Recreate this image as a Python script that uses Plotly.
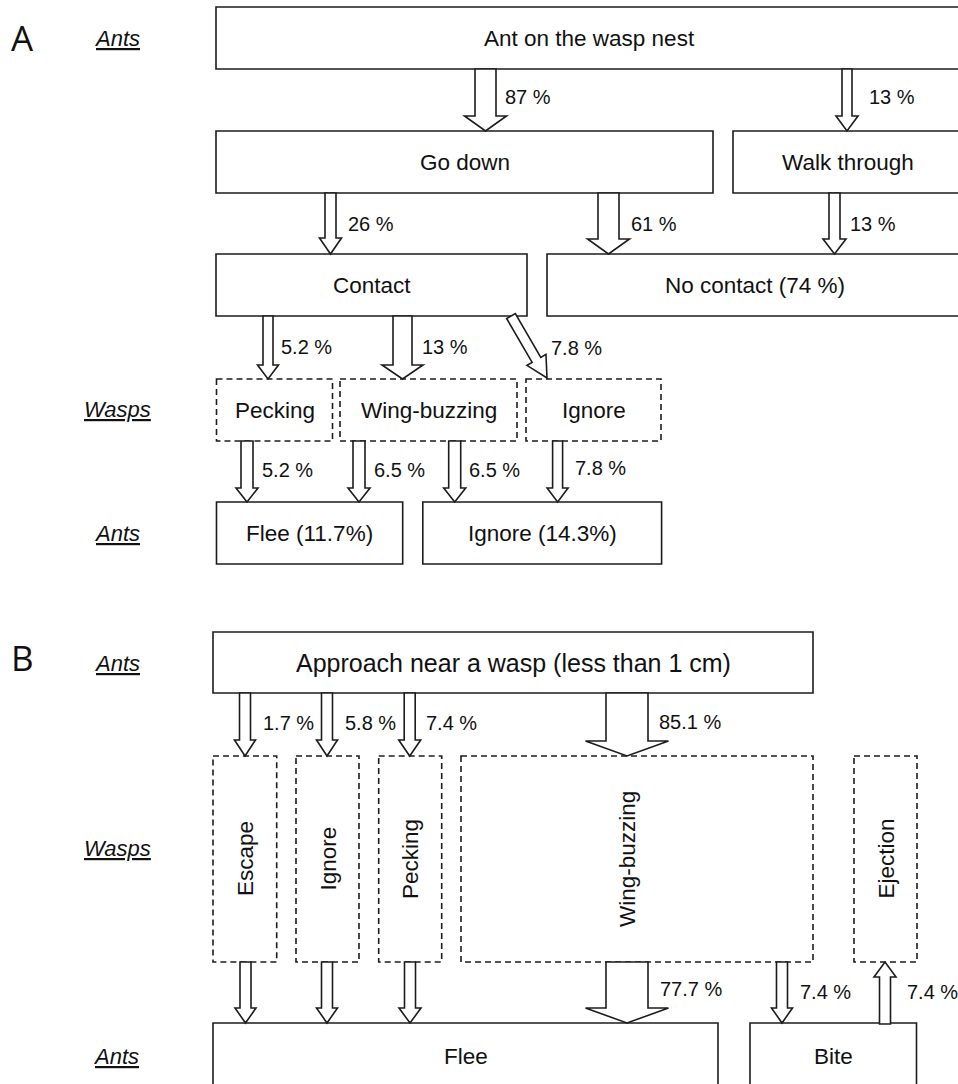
import plotly.graph_objects as go

# ---------------- DATA ----------------
# Panel A
A_box_labels = ["Ant on the wasp nest", "Go down", "Walk through", "Contact", "No contact (74 %)",
                "Pecking", "Wing-buzzing", "Ignore", "Flee (11.7%)", "Ignore (14.3%)"]
A_box_dashed = [False, False, False, False, False, True, True, True, False, False]
A_flow_pct = [87, 13, 26, 61, 13, 5.2, 13, 7.8, 5.2, 6.5, 6.5, 7.8]

# Panel B
B_box_labels = ["Approach near a wasp (less than 1 cm)", "Escape", "Ignore", "Pecking",
                "Wing-buzzing", "Ejection", "Flee", "Bite"]
B_box_dashed = [False, True, True, True, True, True, False, False]
B_box_vertical = [False, True, True, True, True, True, False, False]
B_flow_pct = [1.7, 5.8, 7.4, 85.1, None, None, None, 77.7, 7.4, 7.4]

row_labels = ["Ants", "Wasps", "Ants", "Ants", "Wasps", "Ants"]
panel_letters = ["A", "B"]

# ---------------- LAYOUT (geometry, px) ----------------
A_box_geom = [(216, 7, 962, 69), (216, 131, 713, 193), (733, 131, 962, 193),
              (216, 254, 527, 316), (547, 254, 962, 316),
              (216.5, 379, 332.5, 441), (340, 379, 517, 441), (526, 379, 661, 441),
              (216.5, 502, 402.7, 564), (422.8, 502, 661.6, 564)]
A_box_textx = [None] * 10

# arrows: (x0, y0, x1, y1, shaft w, head w, head len)
A_arrow_geom = [(485.5, 69, 485.5, 131, 21, 42, 15), (847, 69, 847, 131, 10, 22, 15),
                (330.5, 193, 330.5, 254, 11, 22, 16), (608.5, 193, 608.5, 254, 21, 42, 15),
                (834.5, 193, 834.5, 254, 11, 23, 15),
                (268, 316, 268, 379, 10, 21, 14), (402.5, 316, 402.5, 379, 19, 41, 14),
                (511, 316, 547, 378, 10, 22, 21),
                (247, 441, 247, 502, 12, 22, 14), (359, 441, 359, 502, 12, 22, 14),
                (454.7, 441, 454.7, 502, 12, 22, 14), (557.6, 441, 557.6, 502, 10, 21, 14)]
A_label_pos = [(503, 97), (867, 97), (346, 224), (629, 224), (848, 224),
               (279, 347), (420, 347), (549, 348),
               (260, 470), (372, 470), (466.5, 470), (573, 468)]

B_box_geom = [(213, 632, 813, 693),
              (213, 756, 276.7, 962), (296, 756, 359, 962), (378.7, 756, 441.7, 962),
              (461, 756, 813, 962), (854, 756, 917, 962),
              (213, 1023, 718, 1092), (750, 1023, 916.5, 1092)]
B_box_textx = [513, 245, 327.5, 410, 627, 885.5, 465.5, 833]
B_box_texty = [663, 859, 859, 859, 859, 859, 1056, 1056]
B_box_fontsize = [25, 22.5, 22.5, 22.5, 22.5, 22.5, 22.5, 22.5]

B_arrow_geom = [(245, 693, 245, 756, 11, 21, 16), (327, 693, 327, 756, 11, 21, 16),
                (409.7, 693, 409.7, 756, 11, 22, 16), (627, 693, 627, 756, 42, 83, 15),
                (245.5, 962, 245.5, 1023, 11, 21, 15), (327, 962, 327, 1023, 11, 21, 15),
                (410, 962, 410, 1023, 11, 22, 15), (627, 962, 627, 1023, 42, 83, 15),
                (782, 962, 782, 1023, 11, 21, 15), (885, 1024, 885, 962, 11, 22, 15)]
B_label_pos = [(261, 723), (342.7, 723), (424, 723), (657, 722), None, None, None,
               (658, 989), (798, 992), (905, 992)]

row_label_pos = [(117, 38), (117, 409), (117, 533), (117, 663), (117, 848), (116, 1056)]
panel_letter_pos = [(22, 37), (22, 657)]

W, H = 958, 1084
LINE = "#1c1c1c"
TXT = "#111111"
FONT = "Liberation Sans, Arial, sans-serif"


def arrow_path(x0, y0, x1, y1, sw, hw, hl):
    dx, dy = x1 - x0, y1 - y0
    L = (dx * dx + dy * dy) ** 0.5
    ux, uy = dx / L, dy / L
    nx, ny = -uy, ux
    nk = L - hl
    pts = [
        (x0 + nx * sw / 2, y0 + ny * sw / 2),
        (x0 + ux * nk + nx * sw / 2, y0 + uy * nk + ny * sw / 2),
        (x0 + ux * nk + nx * hw / 2, y0 + uy * nk + ny * hw / 2),
        (x1, y1),
        (x0 + ux * nk - nx * hw / 2, y0 + uy * nk - ny * hw / 2),
        (x0 + ux * nk - nx * sw / 2, y0 + uy * nk - ny * sw / 2),
        (x0 - nx * sw / 2, y0 - ny * sw / 2),
    ]
    return "M " + " L ".join(f"{px:.2f},{py:.2f}" for px, py in pts) + " Z"


fig = go.Figure()
fig.add_trace(go.Scatter(x=[0, W], y=[0, H], mode="markers", marker=dict(opacity=0),
                         hoverinfo="skip", showlegend=False))

shapes = []
annotations = []


def add_box(geom, dashed):
    x0, y0, x1, y1 = geom
    shapes.append(dict(type="rect", xref="x", yref="y", x0=x0, y0=y0, x1=x1, y1=y1,
                       line=dict(color=LINE, width=1.6, dash="6px,4px" if dashed else "solid"),
                       fillcolor="rgba(0,0,0,0)", layer="above"))


def add_text(x, y, text, size=22.5, angle=0, anchor="center", family=FONT):
    annotations.append(dict(x=x, y=y, xref="x", yref="y", text=text, showarrow=False,
                            xanchor=anchor, yanchor="middle", textangle=angle,
                            font=dict(family=family, size=size, color=TXT)))


# Panel A boxes
for lab, g, d in zip(A_box_labels, A_box_geom, A_box_dashed):
    add_box(g, d)
    add_text((g[0] + g[2]) / 2, (g[1] + g[3]) / 2 + 0.5, lab)

# Panel A arrows + labels
for pct, g, lp in zip(A_flow_pct, A_arrow_geom, A_label_pos):
    shapes.append(dict(type="path", xref="x", yref="y", path=arrow_path(*g),
                       line=dict(color=LINE, width=1.6), fillcolor="white", layer="above"))
    add_text(lp[0], lp[1], f"{pct:g} %", size=20, anchor="left")

# Panel B boxes
for lab, g, d, v, tx, ty, fs in zip(B_box_labels, B_box_geom, B_box_dashed, B_box_vertical,
                                     B_box_textx, B_box_texty, B_box_fontsize):
    add_box(g, d)
    add_text(tx, ty, lab, size=fs, angle=-90 if v else 0)

# Panel B arrows + labels
for pct, g, lp in zip(B_flow_pct, B_arrow_geom, B_label_pos):
    shapes.append(dict(type="path", xref="x", yref="y", path=arrow_path(*g),
                       line=dict(color=LINE, width=1.6), fillcolor="white", layer="above"))
    if pct is not None:
        add_text(lp[0], lp[1], f"{pct:g} %", size=20, anchor="left")

# Row labels
for lab, (x, y) in zip(row_labels, row_label_pos):
    add_text(x, y, f"<i><u>{lab}</u></i>", size=22)

# Panel letters
for lab, (x, y) in zip(panel_letters, panel_letter_pos):
    add_text(x, y, lab, size=35, family="Open Sans, sans-serif")

fig.update_layout(
    width=W, height=H, autosize=False,
    margin=dict(l=0, r=0, t=0, b=0, pad=0),
    paper_bgcolor="white", plot_bgcolor="white",
    xaxis=dict(range=[0, W], visible=False, fixedrange=True),
    yaxis=dict(range=[H, 0], visible=False, fixedrange=True),
    shapes=shapes, annotations=annotations, showlegend=False,
)

fig.write_html("out.html", config={"displayModeBar": False},
               post_script="document.body.style.margin='0';document.body.style.overflow='hidden';")
